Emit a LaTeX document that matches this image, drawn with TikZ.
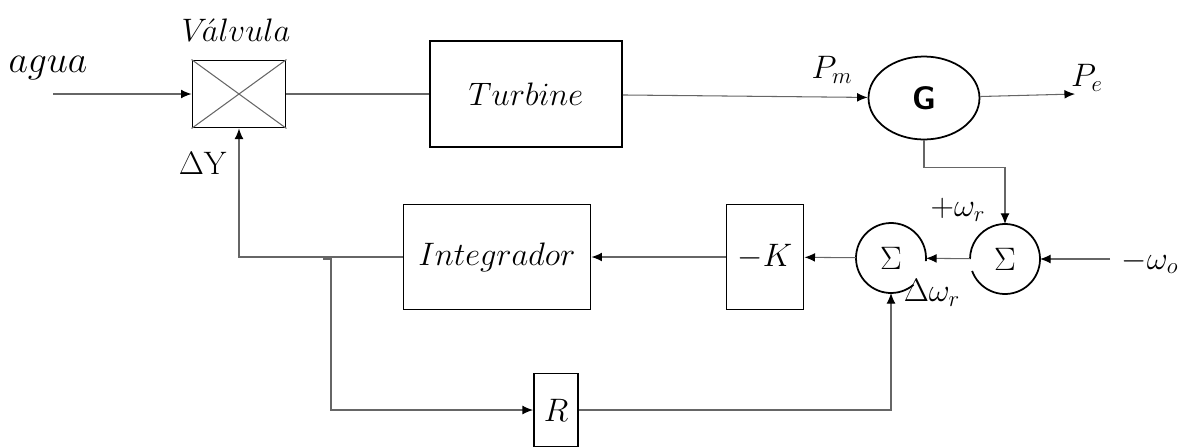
\documentclass[tikz,border=0pt]{standalone}
\usepackage{fix-cm}
\usetikzlibrary{arrows.meta,shapes.geometric}

\begin{document}
\begin{tikzpicture}[
    x=0.02cm, y=0.02cm,
    font=\fontsize{18.5}{22}\selectfont,
    block/.style={rectangle, draw=black, line width=1.1pt, inner sep=0pt},
    sumnode/.style={circle, minimum size=1.4cm, inner sep=0pt, outer sep=0pt},
    wire/.style={draw=black!60, line width=0.6pt},
    arrow/.style={wire, -{Latex[length=6pt, width=5pt, color=black]}}
]
    \useasboundingbox (0,0) rectangle (1188,-447);

    % --- Upper path ---
    \node (agua) at (48,-68) {\fontsize{21.5}{24}\selectfont$agua$};
    \coordinate (in) at (53,-94);
    \node[block, minimum width=1.86cm, minimum height=1.34cm] (valve) at (239,-94) {};
    \draw[wire] (valve.north west) -- (valve.south east)
                (valve.south west) -- (valve.north east);
    \node (valvlbl) at (236,-30) {$V\!\acute{a}lvula$};
    \node[block, minimum width=3.84cm, minimum height=2.12cm] (turb) at (526,-94) {$Turbine$};
    \node[ellipse, draw=black, line width=1pt, minimum width=2.22cm, minimum height=1.66cm, inner sep=0pt] (gen) at (924,-98) {\sffamily\bfseries G};
    \node (pm) at (832,-70) {$P_m$};
    \node (pe) at (1087,-78) {$P_e$};
    \coordinate (out) at (1075,-94);

    \draw[arrow] (in) -- (valve);
    \draw[wire] (valve) -- (turb);
    \draw[arrow] (turb) -- (gen);
    \draw[arrow] (gen) -- (out);

    % --- Feedback path ---
    \node[sumnode] (sum2) at (1005,-259) {$\Sigma$};
    \node[sumnode] (sum1) at (891,-258) {$\Sigma$};
    \draw[black, line width=1pt] (sum2.200) arc[start angle=200, end angle=540, radius=0.7cm];
    \draw[black, line width=1pt] (sum1.-5) arc[start angle=-5, end angle=310, radius=0.7cm];
    \node[block, minimum width=1.54cm, minimum height=2.1cm] (gain) at (765,-257) {$-K$};
    \node[block, minimum width=3.74cm, minimum height=2.1cm] (integ) at (497,-257) {$Integrador$};
    \node[block, minimum width=0.88cm, minimum height=1.46cm] (rgain) at (556,-410) {$R$};
    \coordinate (wo) at (1110,-259);
    \node (wolbl) at (1150,-262) {$-\omega_o$};
    \node (wrlbl) at (958,-210) {$+\omega_r$};
    \node (dwlbl) at (932,-293) {$\Delta\omega_r$};
    \node (dylbl) at (203,-163) {$\Delta\mathrm{Y}$};
    \coordinate (tap0) at (323,-259);
    \coordinate (tap) at (331,-259);

    \draw[arrow] (gen.south) -- ++(0,-27) -| (sum2.north);
    \draw[arrow] (wo) -- (sum2);
    \draw[arrow] (sum2) -- (sum1);
    \draw[arrow] (sum1) -- (gain);
    \draw[arrow] (gain) -- (integ);
    \draw[arrow] (integ.west) -| (valve.south);
    \draw[arrow] (tap0) -- (tap) |- (rgain);
    \draw[arrow] (rgain) -| (sum1.south);

\end{tikzpicture}
\end{document}
